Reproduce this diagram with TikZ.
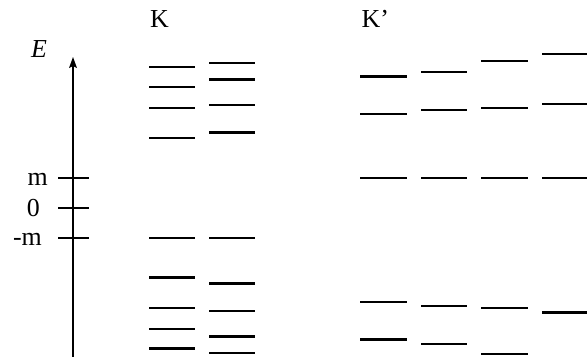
\documentclass[tikz,border=0pt]{standalone}
\usepackage{fontspec}
\setmainfont{Liberation Serif}
\usetikzlibrary{arrows.meta}
\begin{document}
\begin{tikzpicture}[x=1bp,y=-1bp,
  lvl/.style={line width=1.8bp},
  thk/.style={line width=2.9bp},
  tick/.style={line width=1.9bp},
  lab/.style={font=\fontsize{26}{30}\selectfont, inner sep=0pt}]
\useasboundingbox (0,0) rectangle (587,356);
% axis
\coordinate (ab) at (73,357);
\coordinate (ah) at (73,66);
\coordinate (at) at (73,57);
\coordinate (hl) at (69,68);
\coordinate (hr) at (77,68);
\draw[line width=2.4bp] (ab) -- (ah);
\fill (at) -- (hr) -- (ah) -- (hl) -- cycle;
\node[lab, anchor=base west] (E) at (31,57) {\textit{E}};
% ticks
\foreach \y/\n in {177.7/tm, 207.7/tz, 237.7/tmm}{
  \coordinate (\n l) at (58,\y);
  \coordinate (\n r) at (89,\y);
  \draw[tick] (\n l) -- (\n r);
}
\node[lab, anchor=base east] (lm) at (48,185.5) {m};
\node[lab, anchor=base east] (lz) at (40,216.5) {0};
\node[lab, anchor=base east] (lmm) at (42,245.5) {-m};
% column titles
\node[lab, anchor=base west] (K) at (150,27) {K};
\node[lab, anchor=base west] (Kp) at (361.5,27) {K’};
% K column 1
\foreach \y/\s in {67/lvl, 87/lvl, 107.7/lvl, 137.7/lvl, 237.7/lvl, 277.3/thk, 307.7/lvl, 329/lvl, 348.3/thk}
  \draw[\s] (149,\y) -- (195,\y);
% K column 2
\foreach \y/\s in {62.7/lvl, 79.3/thk, 105/lvl, 132.3/thk, 237.7/lvl, 283.3/thk, 311/lvl, 336.3/thk, 353/lvl}
  \draw[\s] (209,\y) -- (255,\y);
% K' column 1
\foreach \y/\s in {76.3/thk, 114/lvl, 177.7/lvl, 301.7/lvl, 339.3/thk}
  \draw[\s] (360,\y) -- (406.7,\y);
% K' column 2
\foreach \y/\s in {71.7/lvl, 109.7/lvl, 177.7/lvl, 305.7/lvl, 343.7/lvl}
  \draw[\s] (421,\y) -- (466.7,\y);
% K' column 3
\foreach \y/\s in {60.7/lvl, 107.7/lvl, 177.7/lvl, 307.7/lvl, 354.3/lvl}
  \draw[\s] (481,\y) -- (527.7,\y);
% K' column 4
\foreach \y/\s in {53.7/lvl, 103.7/lvl, 177.7/lvl, 312.3/thk}
  \draw[\s] (542,\y) -- (587,\y);
\end{tikzpicture}
\end{document}
